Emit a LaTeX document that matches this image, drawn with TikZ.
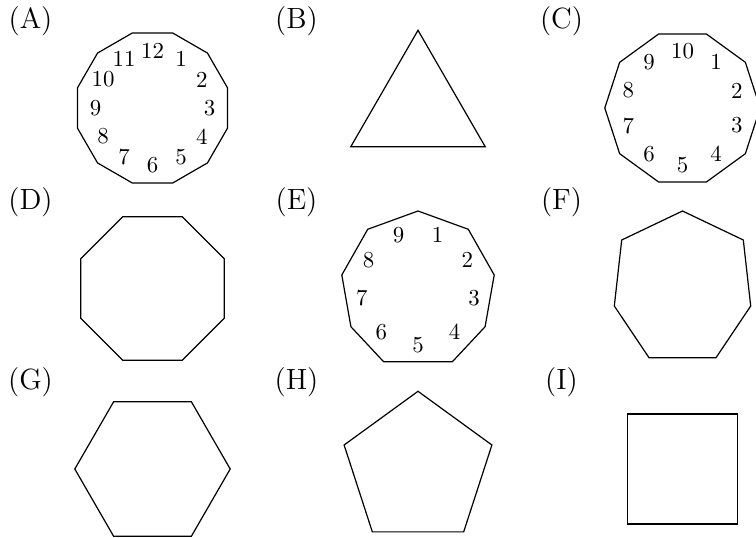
\documentclass[tikz,border=0pt]{standalone}
\usetikzlibrary{calc}
\begin{document}
\begin{tikzpicture}[x=0.45455pt,y=0.45455pt,
  polyline/.style={draw=black,line width=0.55pt,line join=miter},
  num/.style={inner sep=0pt,font=\fontsize{10.4}{12}\selectfont},
  lab/.style={inner sep=0pt,anchor=north,font=\fontsize{13.3}{15}\selectfont}]
\useasboundingbox (0,0) rectangle (756,537);
% polygon centres
\coordinate (A) at (152.5,429);
\coordinate (B) at (418,429);
\coordinate (C) at (682.5,429);
\coordinate (D) at (152.5,248.5);
\coordinate (E) at (418,248.5);
\coordinate (F) at (682.5,248.5);
\coordinate (G) at (152.5,68);
\coordinate (H) at (418,68);
\coordinate (I) at (682.5,68);
% regular polygons with a horizontal bottom side
\newcommand{\regpoly}[3]{%
  \draw[polyline,shift={(#1)}] ({-90+180/#2}:77.7)
    \foreach \k in {1,...,#3}{ -- ({-90+180/#2+360*\k/#2}:77.7)} -- cycle;}
\regpoly{A}{12}{11}
\regpoly{B}{3}{2}
\regpoly{C}{10}{9}
\regpoly{D}{8}{7}
\regpoly{G}{6}{5}
\regpoly{H}{5}{4}
\regpoly{I}{4}{3}
% nonagon (E) as drawn
\draw[polyline,shift={(E)}] (0,77.5) -- (50.3,59.2) -- (76.2,13.5) -- (67.1,-38.2)
  -- (34.4,-73.2) -- (-34.4,-73.2) -- (-67.1,-38.2) -- (-76.2,13.5) -- (-50.3,59.2) -- cycle;
% heptagon (F) as drawn
\draw[polyline,shift={(F)}] (0,77.5) -- (60.8,48.5) -- (68.2,-17.5) -- (33.5,-69.2)
  -- (-33.5,-69.2) -- (-68.2,-17.5) -- (-60.8,48.5) -- cycle;
% clock numbers
\foreach \k in {1,...,12}{\node[num] (A\k) at ($(A)+({90-30*\k}:57)$) {\k};}
\foreach \k in {1,...,10}{\node[num] (C\k) at ($(C)+({90-36*\k}:57)$) {\k};}
\foreach \k in {1,...,9}{\node[num] (E\k) at ($(E)+({110-40*\k}:57)$) {\k};}
% labels
\node[lab] (lA) at (30.5,530.5) {(A)};
\node[lab] (lB) at (296.5,530.5) {(B)};
\node[lab] (lC) at (561.5,530.5) {(C)};
\node[lab] (lD) at (30.5,350) {(D)};
\node[lab] (lE) at (296.5,350) {(E)};
\node[lab] (lF) at (561.5,350) {(F)};
\node[lab] (lG) at (30.5,169.5) {(G)};
\node[lab] (lH) at (296.5,169.5) {(H)};
\node[lab] (lI) at (561.5,169.5) {(I)};
\end{tikzpicture}
\end{document}
